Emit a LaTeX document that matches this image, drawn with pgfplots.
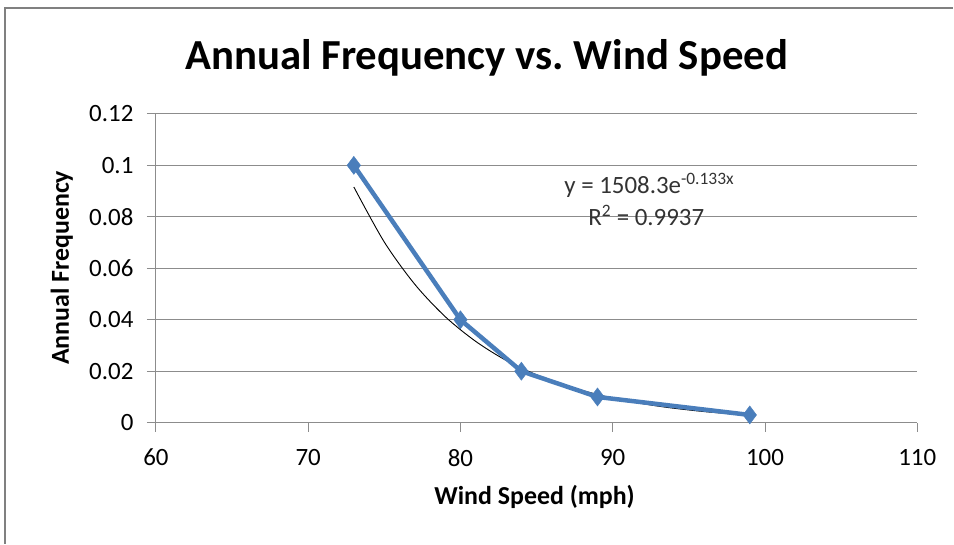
\documentclass[border=0pt]{standalone}
\usepackage{pgfplots}
\pgfplotsset{compat=1.18}
\usepackage{fontspec}
\setmainfont{Carlito}
\definecolor{serblue}{HTML}{4A7EBB}
\definecolor{gridgray}{HTML}{8C8C8C}
\begin{document}
\begin{tikzpicture}
\begin{axis}[
    scale only axis,
    width=762bp, height=309bp,
    xmin=60, xmax=110, ymin=0, ymax=0.12,
    xtick={60,70,...,110},
    ytick={0,0.02,...,0.12},
    yticklabels={0,0.02,0.04,0.06,0.08,0.1,0.12},
    axis x line*=bottom, axis y line*=left,
    axis line style={gridgray, line width=1bp, -},
    tick align=outside, major tick length=9bp,
    tick style={gridgray, line width=1bp},
    ymajorgrids, grid style={gridgray, line width=1bp},
    /pgf/number format/assume math mode=true,
    tick label style={font=\fontsize{25}{29}\selectfont},
    xticklabel style={yshift=-14bp},
    yticklabel style={xshift=-10bp},
    clip=false,
]
% trendline (exponential fit, y = 1508.3 e^{-0.133x})
\addplot[black, line width=0.9bp, smooth] coordinates {
    (73,0.0916) (75,0.0702) (77,0.0538) (79,0.0412) (81,0.0316)
    (83,0.0242) (85,0.0186) (87,0.0142) (90,0.00955) (93,0.0064)
    (96,0.0043) (99,0.0029)
};
\addplot[serblue, line width=4.5bp, mark=diamond*, mark size=9bp,
    mark options={fill=serblue, draw=serblue, line width=0.5bp}] coordinates {
    (73,0.1) (80,0.04) (84,0.02) (89,0.01) (99,0.003)
};
\node[font=\fontsize{25}{29}\selectfont, color=black!80] at (axis cs:92.4,0.0924) {y = 1508.3e\textsuperscript{-0.133x}};
\node[font=\fontsize{25}{29}\selectfont, color=black!80] at (axis cs:92.2,0.0805) {R\textsuperscript{2} = 0.9937};
\end{axis}
\node[font=\fontsize{43}{47}\selectfont\bfseries] at (331bp,365bp) {Annual Frequency vs.\ Wind Speed};
\node[font=\fontsize{26}{30}\selectfont\bfseries] at (379bp,-74bp) {Wind Speed (mph)};
\node[font=\fontsize{26}{30}\selectfont\bfseries, rotate=90] at (-94bp,155bp) {Annual Frequency};
\draw[gray, line width=1.5bp] (-151bp,-121bp) -- (-151bp,415bp) -- (798bp,415bp);
\useasboundingbox (-156bp,-121bp) rectangle (798bp,423bp);
\end{tikzpicture}
\end{document}
